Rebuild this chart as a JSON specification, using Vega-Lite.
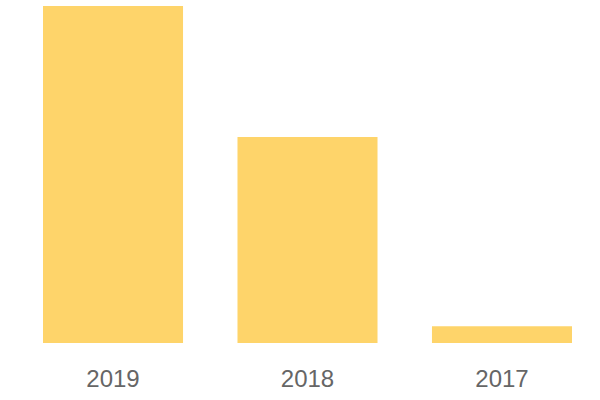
{
  "$schema": "https://vega.github.io/schema/vega-lite/v6.json",
  "width": 585,
  "height": 337,
  "autosize": "none",
  "padding": {"left": 15, "top": 6, "right": 0, "bottom": 57},
  "background": "white",
  "config": {"view": {"stroke": null}},
  "data": {"values": [
    {"year": "2019", "value": 1000},
    {"year": "2018", "value": 611},
    {"year": "2017", "value": 50}
  ]},
  "mark": {"type": "bar", "color": "#FED46A"},
  "encoding": {
    "x": {"field": "year", "type": "nominal", "sort": null,
      "scale": {"paddingInner": 0.28, "paddingOuter": 0.144},
      "axis": {"title": null, "labelAngle": 0, "domain": false, "ticks": false,
        "labelFont": "Liberation Sans", "labelFontSize": 24, "labelColor": "#666666", "labelPadding": 24}},
    "y": {"field": "value", "type": "quantitative",
      "scale": {"domain": [0, 1000], "nice": false}, "axis": null}
  }
}
